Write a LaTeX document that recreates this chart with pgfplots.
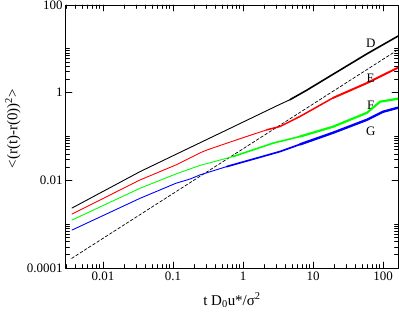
\documentclass[border=0pt]{standalone}
\usepackage{fontspec}
\setmainfont{Liberation Serif}
\usepackage{pgfplots}
\pgfplotsset{compat=1.18}
\begin{document}
\begin{tikzpicture}
\path[use as bounding box] (-66bp,-45bp) rectangle (333bp,268bp);
\begin{axis}[
  at={(0,0)}, anchor=south west,
  scale only axis, width=332bp, height=263bp,
  xmode=log, ymode=log,
  xmin=0.00296, xmax=163.7, ymin=1e-4, ymax=100,
  xtick={0.01,0.1,1,10,100}, xticklabels={0.01,0.1,1,10,100},
  ytick={1e-4,1e-2,1,100}, yticklabels={0.0001,0.01,1,100},
  minor xtick={0.003,0.004,0.005,0.006,0.007,0.008,0.009,0.02,0.03,0.04,0.05,0.06,0.07,0.08,0.09,0.2,0.3,0.4,0.5,0.6,0.7,0.8,0.9,2,3,4,5,6,7,8,9,20,30,40,50,60,70,80,90},
  minor ytick={2e-4,3e-4,4e-4,5e-4,6e-4,7e-4,8e-4,9e-4,1e-3,0.02,0.03,0.04,0.05,0.06,0.07,0.08,0.09,0.1,2,3,4,5,6,7,8,9,10},
  tick align=inside, major tick length=6bp, minor tick length=3.5bp,
  every tick/.style={black, line width=0.7pt},
  axis line style={line width=1pt},
  tick label style={font=\fontsize{13}{15}\selectfont},
  xlabel={t D\textsubscript{0}u*/σ\textsuperscript{2}},
  ylabel={<(r(t)-r(0))\textsuperscript{2}>},
  label style={font=\fontsize{15}{18}\selectfont},
  xlabel style={at={(axis description cs:0.5,-0.122)}, anchor=center},
  ylabel style={at={(axis description cs:-0.16,0.53)}, anchor=center},
  line join=round, line cap=round,
]
% dashed slope-1 line
\addplot[black, line width=0.7pt, dash pattern=on 3pt off 2pt] coordinates {(0.00357,1.66e-4) (163.7,9.55)};
% D (black)
\addplot[black, line width=0.9pt] coordinates {(0.0036,0.00233) (0.0338,0.0158) (0.1,0.0364) (0.469,0.119) (3.16,0.516) (4.69,0.692)};
\addplot[black, line width=1.6pt] coordinates {(4.69,0.692) (8.0,1.12) (15.85,2.17) (59.0,7.7) (163.7,19.5)};
% E (red)
\addplot[red, line width=0.9pt] coordinates {(0.0036,0.0017) (0.0338,0.0102) (0.1104,0.0225) (0.243,0.0423) (0.303,0.049) (0.794,0.083) (2.18,0.142)};
\addplot[red, line width=1.5pt] coordinates {(2.18,0.142) (3.38,0.169) (6.52,0.287) (19.3,0.759)};
\addplot[red, line width=2pt] coordinates {(19.3,0.759) (59.0,1.66) (163.7,3.72)};
% F (green)
\addplot[green, line width=0.9pt] coordinates {(0.0036,0.00124) (0.0338,0.00659) (0.1104,0.014) (0.243,0.0219) (0.719,0.0348)};
\addplot[green, line width=1.6pt] coordinates {(0.719,0.0348) (2.69,0.0706) (6.52,0.1)};
\addplot[green, line width=2.2pt] coordinates {(6.52,0.1) (19.3,0.167) (59.0,0.348) (90.6,0.622) (163.7,0.729)};
% G (blue)
\addplot[blue, line width=0.9pt] coordinates {(0.0036,0.000733) (0.0338,0.00389) (0.1104,0.00859) (0.175,0.0107) (0.243,0.0133) (0.585,0.0206)};
\addplot[blue, line width=1.7pt] coordinates {(0.585,0.0206) (1.57,0.0321) (3.38,0.0454) (6.52,0.0661)};
\addplot[blue, line width=2.4pt] coordinates {(6.52,0.0661) (19.3,0.1216) (59.0,0.241) (100,0.367) (163.7,0.454)};
\node[font=\fontsize{13}{15}\selectfont] at (axis cs:66.7,13.7) {D};
\node[font=\fontsize{13}{15}\selectfont] at (axis cs:66.7,2.09) {E};
\node[font=\fontsize{13}{15}\selectfont] at (axis cs:66.7,0.505) {F};
\node[font=\fontsize{13}{15}\selectfont] at (axis cs:66.7,0.13) {G};
\end{axis}
\end{tikzpicture}
\end{document}
